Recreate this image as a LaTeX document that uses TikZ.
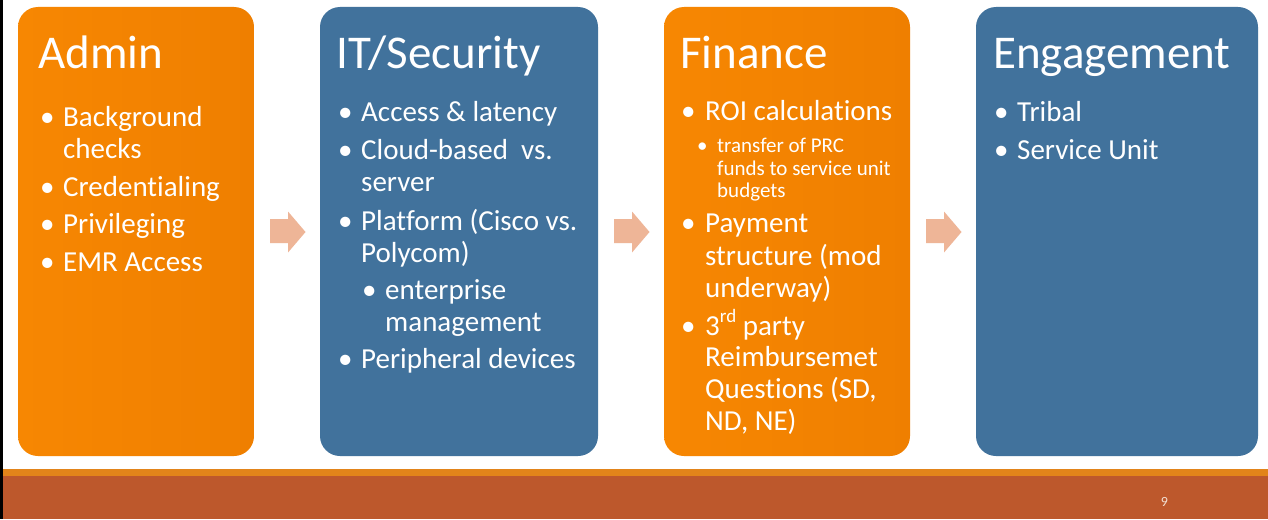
\documentclass[tikz,border=0pt]{standalone}
\usepackage{fontspec}
\setmainfont[RawFeature={-liga;-calt;-clig}]{Carlito}
\definecolor{orangeA}{RGB}{247,135,2}
\definecolor{orangeB}{RGB}{239,127,0}
\definecolor{blueC}{RGB}{65,114,156}
\definecolor{arrowC}{RGB}{238,181,151}
\definecolor{lineC}{RGB}{226,132,26}
\definecolor{bandC}{RGB}{189,88,44}
\definecolor{numC}{RGB}{242,224,212}
\tikzset{
  box/.style={rounded corners=20pt, draw=none, inner sep=0pt, minimum height=449pt},
  orangebox/.style={box, left color=orangeA, right color=orangeB},
  bluebox/.style={box, fill=blueC},
  title/.style={font=\fontsize{47}{56}\selectfont, text=white, anchor=base west, inner sep=0pt},
  body/.style={font=\fontsize{29}{32}\selectfont, text=white, anchor=base west, inner sep=0pt},
  subtext/.style={font=\fontsize{21}{24}\selectfont, text=white, anchor=base west, inner sep=0pt},
  blockarrow/.style={fill=arrowC, draw=none}
}
\begin{document}
\begin{tikzpicture}[x=1pt,y=-1pt]
\useasboundingbox (0,0) rectangle (1268,519);
\fill[white] (0,0) rectangle (1268,519);
% bottom bands
\fill[lineC] (0,469) rectangle (1268,476);
\fill[bandC] (0,476) rectangle (1268,519);
\fill[black] (0,0) rectangle (3,519);
\node[font=\fontsize{14}{16}\selectfont, text=numC, anchor=base, inner sep=0pt] (pnum) at (1164.5,506) {9};

% boxes
\node[orangebox, minimum width=236pt] (admin) at (136,231.5) {};
\node[bluebox, minimum width=278pt] (it) at (459,231.5) {};
\node[orangebox, minimum width=246pt] (fin) at (787,231.5) {};
\node[bluebox, minimum width=282pt] (eng) at (1117,231.5) {};

% block arrows
\fill[blockarrow] (270,219) -- (288,219) -- (288,211.5) -- (305.5,232) -- (288,252.5) -- (288,243) -- (270,243) -- cycle;
\fill[blockarrow] (614,219) -- (632,219) -- (632,211.5) -- (649.5,232) -- (632,252.5) -- (632,243) -- (614,243) -- cycle;
\fill[blockarrow] (926,219) -- (944,219) -- (944,211.5) -- (961.5,232) -- (944,252.5) -- (944,243) -- (926,243) -- cycle;

% Admin
\node[title] (t1) at (38,68) {Admin};
\node[body] (a1b) at (40,126) {•};
\node[body] (a1) at (63,126) {Background};
\node[body] (a1c) at (63,158) {checks};
\node[body] (a2b) at (40,196) {•};
\node[body] (a2) at (63,196) {Credentialing};
\node[body] (a3b) at (40,233) {•};
\node[body] (a3) at (63,233) {Privileging};
\node[body] (a4b) at (40,271) {•};
\node[body] (a4) at (63,271) {EMR Access};

% IT/Security
\node[title] (t2) at (336,68) {IT/Security};
\node[body] (b1b) at (338,121) {•};
\node[body] (b1) at (361,121) {Access \& latency};
\node[body] (b2b) at (338,159) {•};
\node[body] (b2) at (361,159) {Cloud-based\ \ vs.};
\node[body] (b2c) at (361,191) {server};
\node[body] (b3b) at (338,230) {•};
\node[body] (b3) at (361,230) {Platform (Cisco vs.};
\node[body] (b3c) at (361,262) {Polycom)};
\node[body] (b4b) at (362,299) {•};
\node[body] (b4) at (385,299) {enterprise};
\node[body] (b4c) at (385,331) {management};
\node[body] (b5b) at (338,368) {•};
\node[body] (b5) at (361,368) {Peripheral devices};

% Finance
\node[title] (t3) at (680,68) {Finance};
\node[body] (c1b) at (681,120) {•};
\node[body] (c1) at (705,120) {ROI calculations};
\node[subtext] (c2b) at (697,152) {•};
\node[subtext] (c2) at (717,152) {transfer of PRC};
\node[subtext] (c2c) at (717,175) {funds to service unit};
\node[subtext] (c2d) at (717,197) {budgets};
\node[body] (c3b) at (681,232) {•};
\node[body] (c3) at (705,232) {Payment};
\node[body] (c3c) at (705,265) {structure (mod};
\node[body] (c3d) at (705,297) {underway)};
\node[body] (c4b) at (681,335) {•};
\node[body] (c4) at (705,335) {3{\raisebox{0.42em}{\fontsize{19}{20}\selectfont rd}} party};
\node[body] (c4c) at (705,366) {Reimbursemet};
\node[body] (c4d) at (705,398) {Questions (SD,};
\node[body] (c4e) at (705,430) {ND, NE)};

% Engagement
\node[title] (t4) at (993,68) {Engagement};
\node[body] (d1b) at (994,121) {•};
\node[body] (d1) at (1017,121) {Tribal};
\node[body] (d2b) at (994,159) {•};
\node[body] (d2) at (1017,159) {Service Unit};
\end{tikzpicture}
\end{document}
